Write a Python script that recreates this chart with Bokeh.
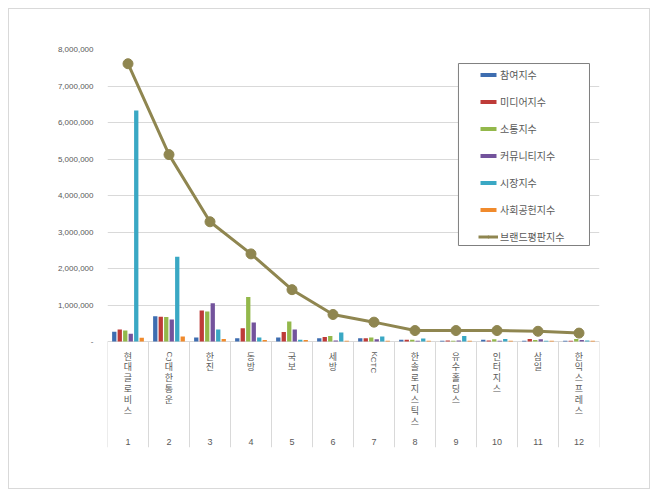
import re
from bokeh.plotting import figure
from bokeh.models import (Range1d, FixedTicker, NumeralTickFormatter, ColumnDataSource,
                          Legend, LegendItem)
from bokeh.transform import dodge
from bokeh.core.properties import value
from bokeh.embed import file_html
from bokeh.resources import INLINE

# ---------------- data ----------------
ranks = ["1", "2", "3", "4", "5", "6", "7", "8", "9", "10", "11", "12"]
companies = ["현대글로비스", "CJ대한통운", "한진", "동방", "국보", "세방", "KCTC",
             "한솔로지스틱스", "유수홀딩스", "인터지스", "삼일", "한익스프레스"]
series_names = ["참여지수", "미디어지수", "소통지수", "커뮤니티지수", "시장지수", "사회공헌지수"]
brand_name = "브랜드평판지수"

participation = [270000, 690000, 110000, 90000, 110000, 90000, 90000, 50000, 20000, 50000, 20000, 20000]
media = [330000, 680000, 850000, 360000, 260000, 120000, 90000, 50000, 30000, 30000, 70000, 20000]
communication = [300000, 670000, 820000, 1220000, 550000, 150000, 110000, 50000, 20000, 60000, 40000, 70000]
community = [210000, 600000, 1050000, 520000, 330000, 30000, 60000, 20000, 30000, 20000, 60000, 40000]
market = [6330000, 2320000, 330000, 110000, 50000, 250000, 140000, 80000, 150000, 70000, 20000, 30000]
social = [100000, 140000, 70000, 40000, 40000, 20000, 20000, 20000, 20000, 20000, 20000, 20000]
brand = [7610000, 5120000, 3280000, 2400000, 1420000, 740000, 530000, 300000, 300000, 300000, 280000, 230000]

y_ticks = [0, 1000000, 2000000, 3000000, 4000000, 5000000, 6000000, 7000000, 8000000]

# ---------------- styles ----------------
colors = ["#3E6DB0", "#BE3B38", "#93B84B", "#73539C", "#3AA8C4", "#F08A2C"]
line_color = "#8F8650"
grid_color = "#D9D9D9"
text_color = "#595959"
kfont = value("Noto Sans CJK KR")

PX_PER_UNIT = 292 / 8000000.0          # vertical pixels per data unit
Y_BOTTOM = -106 / PX_PER_UNIT          # bottom of category table

idx = list(range(1, len(companies) + 1))
src = ColumnDataSource(dict(idx=idx, participation=participation, media=media,
                            communication=communication, community=community,
                            market=market, social=social, brand=brand))

p = figure(width=642, height=481, output_backend="svg", toolbar_location=None,
           x_range=Range1d(0.5, 12.5), y_range=Range1d(Y_BOTTOM, 8000000),
           x_axis_type=None, min_border_left=98, min_border_right=52,
           min_border_top=40, min_border_bottom=43)
p.styles = {"border": "1px solid #D9D9D9", "margin-left": "8px", "margin-top": "8px"}
p.outline_line_color = None
p.xgrid.visible = False
p.ygrid.grid_line_color = grid_color
p.ygrid.grid_line_width = 1

yax = p.yaxis[0]
yax.ticker = FixedTicker(ticks=y_ticks)
yax.formatter = NumeralTickFormatter(format="0,0")
yax.major_label_overrides = {0: "-"}
yax.axis_line_color = None
yax.major_tick_line_color = None
yax.minor_tick_line_color = None
yax.major_label_text_font_size = "8px"
yax.major_label_text_font = "'Liberation Sans Narrow', 'Liberation Sans'"
yax.major_label_text_color = text_color
yax.major_label_standoff = 8

# category table separators
sep = ColumnDataSource(dict(x=[i - 0.5 for i in idx] + [idx[-1] + 0.5]))
p.segment(x0="x", x1="x", y0=0, y1=Y_BOTTOM, source=sep, line_color=grid_color, line_width=1)

# bars
fields = ["participation", "media", "communication", "community", "market", "social"]
step = 0.134
bw = 0.105
bar_renderers = []
for i, f in enumerate(fields):
    r = p.vbar(x=dodge("idx", (i - 2.5) * step, range=p.x_range), top=f, bottom=0,
               width=bw, source=src, fill_color=colors[i], line_color=None)
    bar_renderers.append(r)

# brand line
lr = p.line("idx", "brand", source=src, line_color=line_color, line_width=3)
cr = p.scatter("idx", "brand", source=src, size=10, fill_color=line_color, line_color=line_color)

# legend frame
p.quad(left=[9.06], right=[12.256], top=[7616000], bottom=[2630000],
       fill_color="white", line_color="#7F7F7F", line_width=1)

items = [LegendItem(label=n, renderers=[r]) for n, r in zip(series_names, bar_renderers)]
items.append(LegendItem(label=brand_name, renderers=[lr, cr]))
legend = Legend(items=items, location=(371, 203), padding=0, spacing=12,
                label_height=14, glyph_height=5, glyph_width=20, label_standoff=2,
                background_fill_alpha=0, border_line_color=None,
                label_text_font="Noto Sans CJK KR", label_text_font_size="10px",
                label_text_color=text_color)
p.add_layout(legend)

# category labels: Latin prefix rotated, Hangul stacked upright
lat_x, lat_y, lat_t = [], [], []
han_x, han_y, han_t = [], [], []
for i, name in zip(idx, companies):
    m = re.match(r"[A-Za-z]+", name)
    latin = m.group(0) if m else ""
    rest = name[len(latin):]
    if latin:
        lat_x.append(i); lat_y.append(-10 / PX_PER_UNIT); lat_t.append(latin)
    if rest:
        han_x.append(i)
        han_y.append(-(8 + (len(latin) * 4.6 + 1 if latin else 0)) / PX_PER_UNIT)
        han_t.append("\n".join(rest))

p.text(x=han_x, y=han_y, text=han_t, text_font=kfont, text_font_size="9px",
       text_color=text_color, text_align="center", text_baseline="top",
       text_line_height=0.845)
p.text(x=lat_x, y=lat_y, text=lat_t, text_font=value("Liberation Sans"), text_font_size="8px",
       text_color=text_color, text_align="left", text_baseline="middle", angle=-1.5708)

p.text(x=idx, y=[-100 / PX_PER_UNIT] * len(idx), text=ranks, text_font=value("Liberation Sans"),
       text_font_size="9px", text_color=text_color, text_align="center", text_baseline="middle")

open("out.html", "w").write(file_html(p, INLINE))
